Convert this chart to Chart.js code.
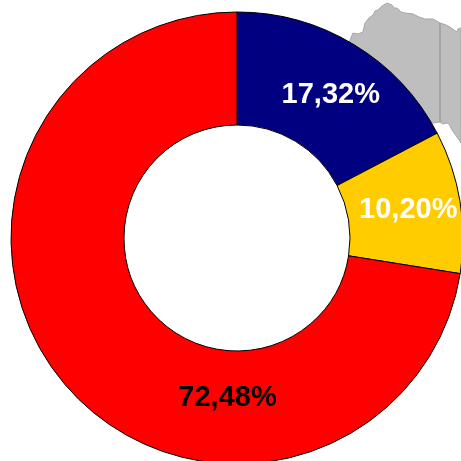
<!DOCTYPE html>
<html><head><meta charset="utf-8">
<style>html,body{margin:0;padding:0;background:#fff;overflow:hidden;width:461px;height:461px}
#w{position:absolute;left:-13px;top:-12px;width:500px;height:500px}</style>
<script src="https://cdn.jsdelivr.net/npm/chart.js@4"></script></head><body>
<div id="w"><canvas id="c" width="500" height="500"></canvas></div>
<script>
const categories=["A","B","C"];
const values=[17.32,10.20,72.48];
const colors=["#000080","#FFCC00","#FF0000"];
const labelColors=["#FFFFFF","#FFFFFF","#000000"];
const labelTexts=["17,32%","10,20%","72,48%"];
const labelOffsets=[[6,2],[4,-1],[119.5,50]];
const mapOutline=[[353,33],[358,34],[363,32],[365,23],[369,18],[373,15],[375,11],[378,10],[382,6],[387,3],[392,5],[394,8],[397,8],[401,12],[405,13],[413,14],[419,17],[425,19],[433,19],[440,23],[446,25],[450,27],[454,30],[457,32],[458,29],[461,28],[461,143],[457,137],[452,130],[449,124],[447,123],[443,124],[440,122],[433,123],[420,125],[345,50],[350,40]];
const border=[[440,23],[440,122]];
const backdrop={id:'backdrop',beforeDatasetsDraw(ch){const x=ch.ctx;x.save();x.translate(13,12);
x.fillStyle='#BEBEBE';x.strokeStyle='#A6A6A6';x.lineWidth=1;x.lineJoin='round';x.beginPath();
mapOutline.forEach((p,i)=>i?x.lineTo(p[0],p[1]):x.moveTo(p[0],p[1]));x.closePath();x.fill();x.stroke();
x.strokeStyle='#969696';x.lineWidth=1.2;x.beginPath();x.moveTo(...border[0]);x.lineTo(...border[1]);x.stroke();x.restore();}};
const sliceLabels={id:'sliceLabels',afterDatasetsDraw(ch){const x=ch.ctx;x.save();x.font='bold 29px "Liberation Sans"';x.textAlign='center';x.textBaseline='middle';
ch.getDatasetMeta(0).data.forEach((a,i)=>{const p=a.tooltipPosition();x.fillStyle=labelColors[i];x.fillText(labelTexts[i],p.x+labelOffsets[i][0],p.y+labelOffsets[i][1]);});x.restore();}};
new Chart(document.getElementById('c'),{type:'doughnut',
data:{labels:categories,datasets:[{data:values,backgroundColor:colors,borderColor:'#000',borderWidth:1,borderAlign:'center'}]},
options:{responsive:false,animation:false,radius:226,cutout:'50%',rotation:0,plugins:{legend:{display:false},tooltip:{enabled:false}},layout:{padding:0}},
plugins:[backdrop,sliceLabels]});
</script></body></html>
